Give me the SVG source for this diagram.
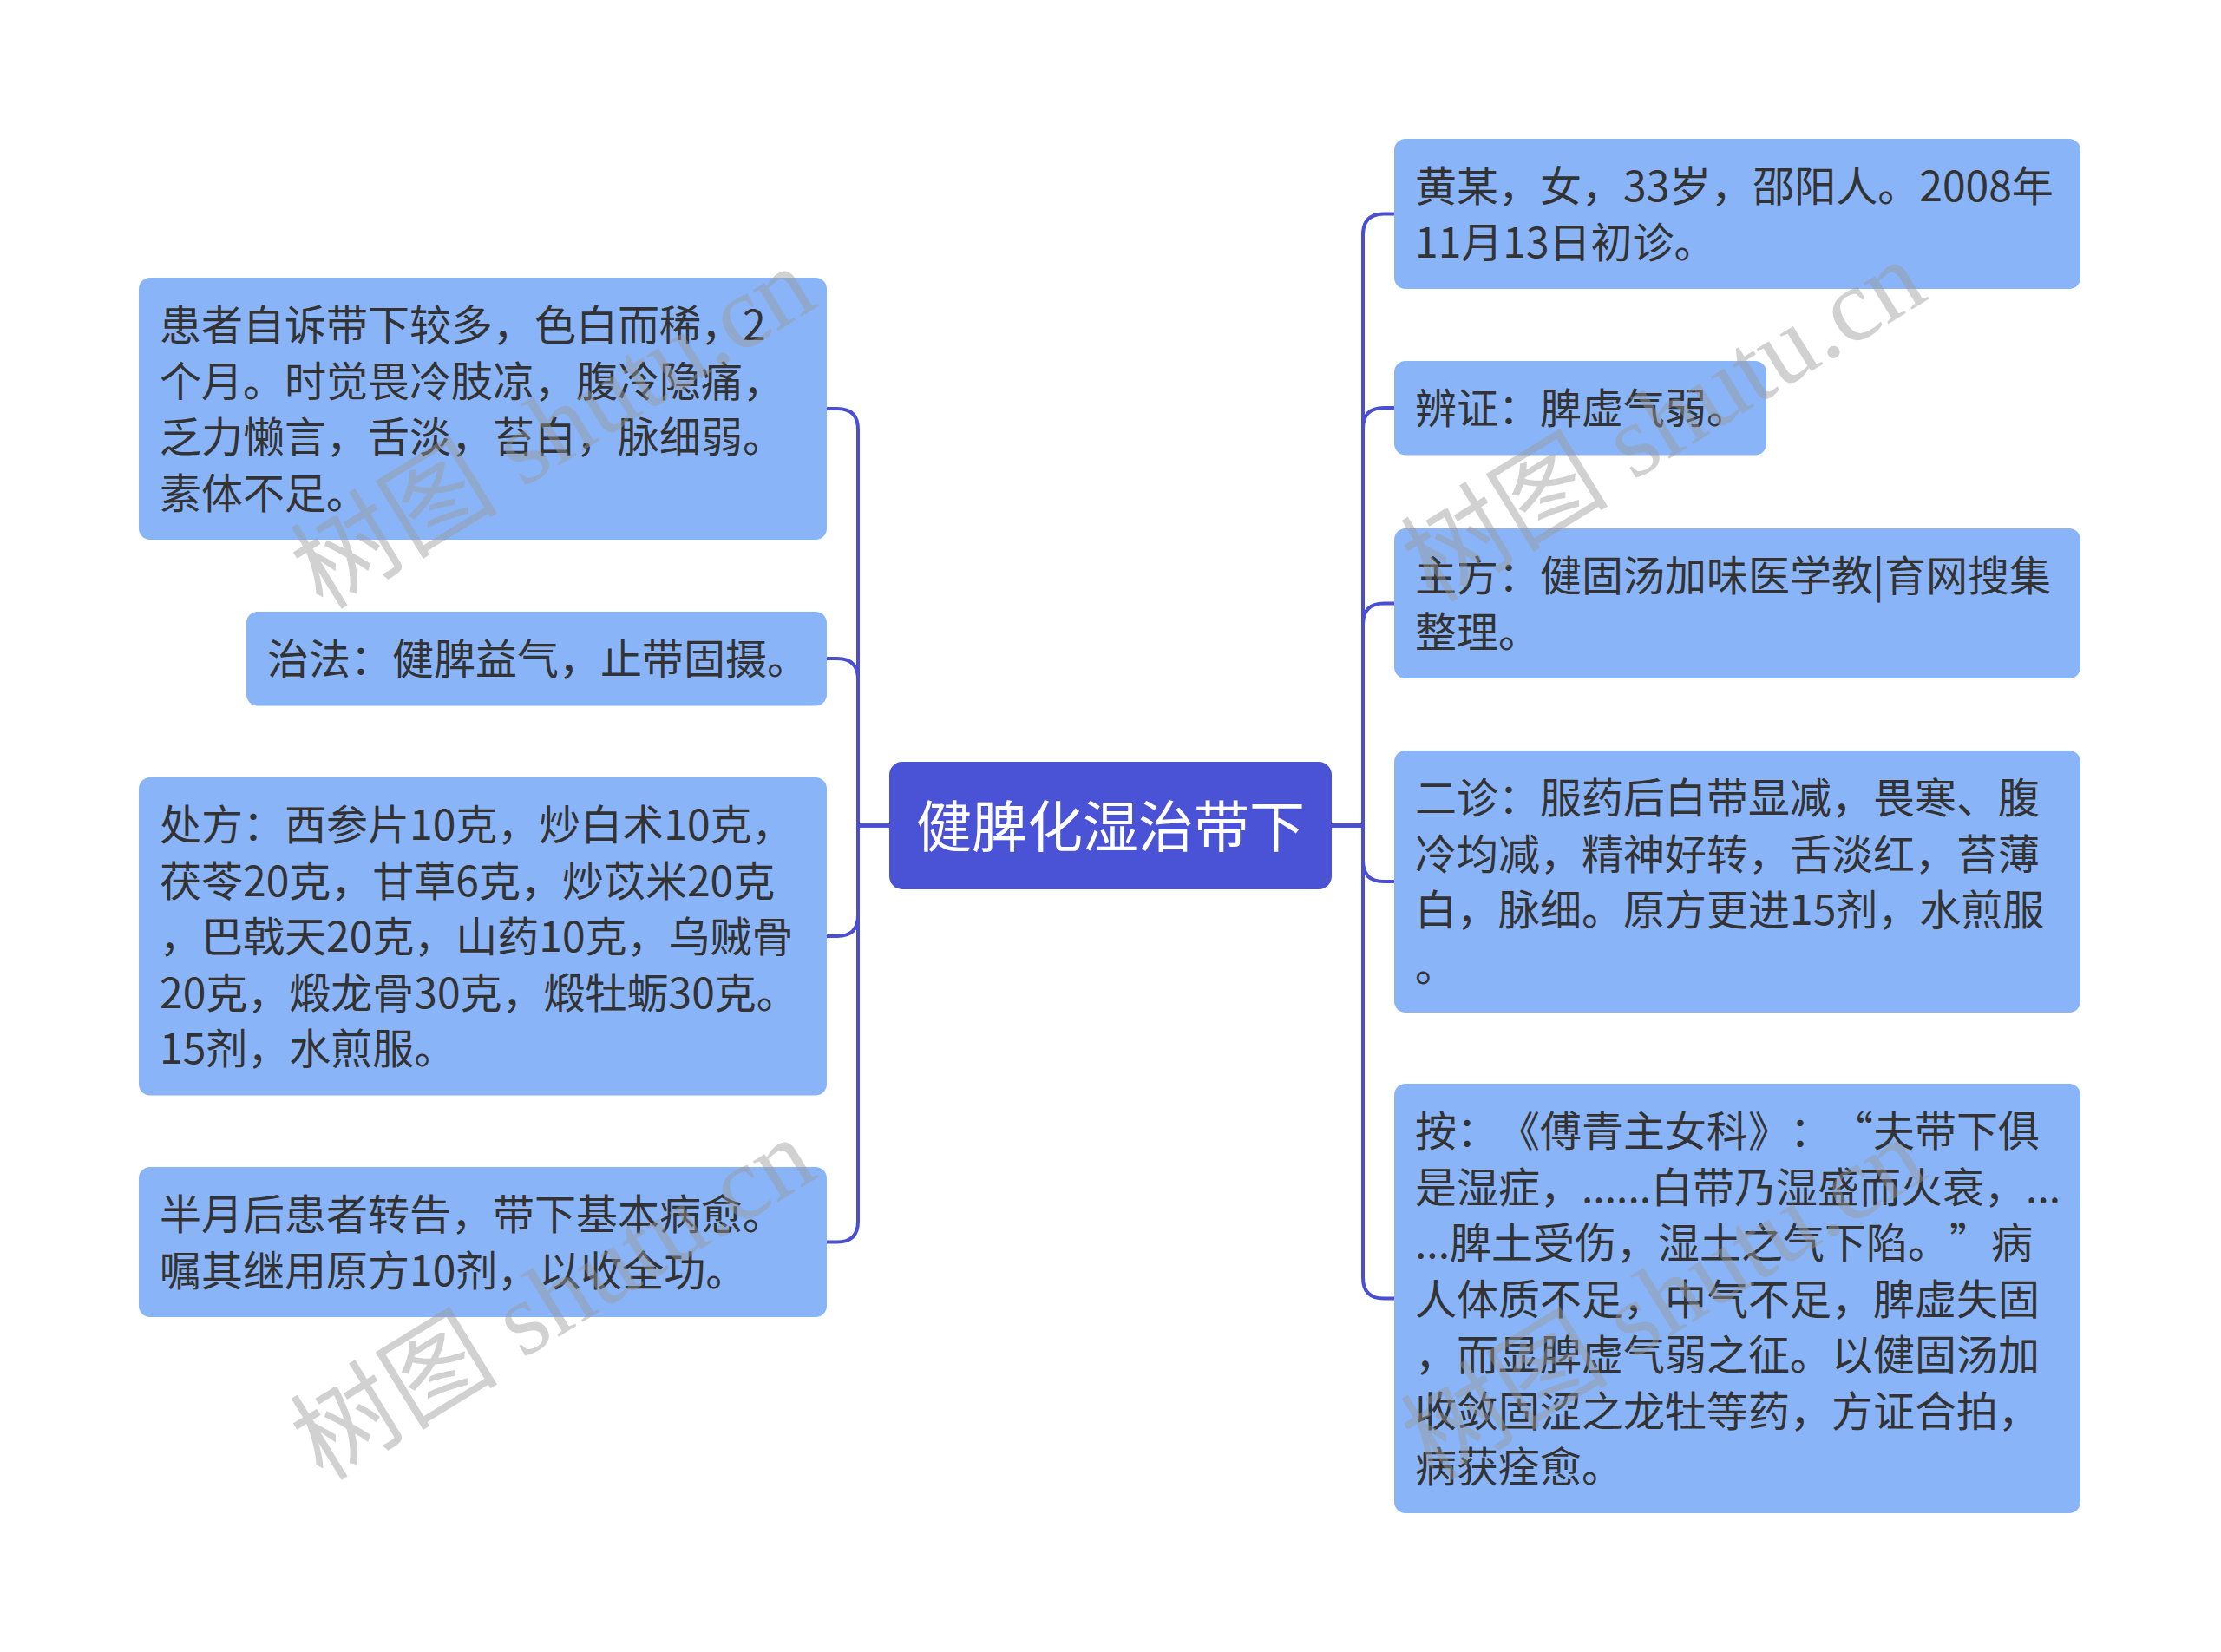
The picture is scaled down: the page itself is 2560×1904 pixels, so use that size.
<svg xmlns="http://www.w3.org/2000/svg" width="2560" height="1904" viewBox="0 0 2560 1904">
<style>
.node{fill:#8ab4f8;}
.root{fill:#4a52d6;}
.t{font-family:"Noto Sans CJK SC","Noto Sans",sans-serif;font-size:48px;fill:#333333;text-spacing-trim:space-all;}
.rt{font-family:"Noto Sans CJK SC","Noto Sans",sans-serif;font-size:64px;fill:#ffffff;text-anchor:middle;}
.c{fill:none;stroke:#4a4fd2;stroke-width:4;}
.wm{font-family:"Liberation Serif","Noto Sans CJK SC",serif;font-size:120px;fill:#9a9a9a;fill-opacity:0.45;}
</style>
<rect width="2560" height="1904" fill="#ffffff"/>
<g id="connectors">
<path class="c" d="M1535 951.5 H1571 V270.5 Q1571 246.5 1595 246.5 H1607"/>
<path class="c" d="M1535 951.5 H1571 V494 Q1571 470 1595 470 H1607"/>
<path class="c" d="M1535 951.5 H1571 V719.5 Q1571 695.5 1595 695.5 H1607"/>
<path class="c" d="M1535 951.5 H1571 V992 Q1571 1016 1595 1016 H1607"/>
<path class="c" d="M1535 951.5 H1571 V1472.5 Q1571 1496.5 1595 1496.5 H1607"/>
<path class="c" d="M1025 951.5 H989 V495 Q989 471 965 471 H953"/>
<path class="c" d="M1025 951.5 H989 V783 Q989 759 965 759 H953"/>
<path class="c" d="M1025 951.5 H989 V1055 Q989 1079 965 1079 H953"/>
<path class="c" d="M1025 951.5 H989 V1407.5 Q989 1431.5 965 1431.5 H953"/>
</g>
<g id="root">
<rect class="root" x="1025" y="878" width="510" height="147" rx="15"/>
<text class="rt" x="1280" y="976">健脾化湿治带下</text>
</g>
<g id="L1">
<rect class="node" x="160" y="320" width="793" height="302" rx="13"/>
<text class="t" x="184" y="392">患者自诉带下较多，色白而稀，2</text>
<text class="t" x="184" y="456.5">个月。时觉畏冷肢凉，腹冷隐痛，</text>
<text class="t" x="184" y="521">乏力懒言，舌淡，苔白，脉细弱。</text>
<text class="t" x="184" y="585.5">素体不足。</text>
</g>
<g id="L2">
<rect class="node" x="284" y="705" width="669" height="108.5" rx="13"/>
<text class="t" x="308" y="777">治法：健脾益气，止带固摄。</text>
</g>
<g id="L3">
<rect class="node" x="160" y="896" width="793" height="366.5" rx="13"/>
<text class="t" x="184" y="968">处方：西参片10克，炒白术10克，</text>
<text class="t" x="184" y="1032.5">茯苓20克，甘草6克，炒苡米20克</text>
<text class="t" x="184" y="1097">，巴戟天20克，山药10克，乌贼骨</text>
<text class="t" x="184" y="1161.5">20克，煅龙骨30克，煅牡蛎30克。</text>
<text class="t" x="184" y="1226">15剂，水煎服。</text>
</g>
<g id="L4">
<rect class="node" x="160" y="1345" width="793" height="173" rx="13"/>
<text class="t" x="184" y="1417">半月后患者转告，带下基本病愈。</text>
<text class="t" x="184" y="1481.5">嘱其继用原方10剂，以收全功。</text>
</g>
<g id="R1">
<rect class="node" x="1607" y="160" width="791" height="173" rx="13"/>
<text class="t" x="1631" y="232">黄某，女，33岁，邵阳人。2008年</text>
<text class="t" x="1631" y="296.5">11月13日初诊。</text>
</g>
<g id="R2">
<rect class="node" x="1607" y="416" width="429" height="108.5" rx="13"/>
<text class="t" x="1631" y="488">辨证：脾虚气弱。</text>
</g>
<g id="R3">
<rect class="node" x="1607" y="609" width="791" height="173" rx="13"/>
<text class="t" x="1631" y="681">主方：健固汤加味医学教|育网搜集</text>
<text class="t" x="1631" y="745.5">整理。</text>
</g>
<g id="R4">
<rect class="node" x="1607" y="865" width="791" height="302" rx="13"/>
<text class="t" x="1631" y="937">二诊：服药后白带显减，畏寒、腹</text>
<text class="t" x="1631" y="1001.5">冷均减，精神好转，舌淡红，苔薄</text>
<text class="t" x="1631" y="1066">白，脉细。原方更进15剂，水煎服</text>
<text class="t" x="1631" y="1130.5">。</text>
</g>
<g id="R5">
<rect class="node" x="1607" y="1249" width="791" height="495" rx="13"/>
<text class="t" x="1631" y="1321">按：《傅青主女科》：“夫带下俱</text>
<text class="t" x="1631" y="1385.5">是湿症，......白带乃湿盛而火衰，...</text>
<text class="t" x="1631" y="1450">...脾土受伤，湿土之气下陷。”病</text>
<text class="t" x="1631" y="1514.5">人体质不足，中气不足，脾虚失固</text>
<text class="t" x="1631" y="1579">，而显脾虚气弱之征。以健固汤加</text>
<text class="t" x="1631" y="1643.5">收敛固涩之龙牡等药，方证合拍，</text>
<text class="t" x="1631" y="1708">病获痊愈。</text>
</g>
<g id="watermarks">
<text class="wm" transform="translate(372 704) rotate(-31.6)">树图 shutu.cn</text>
<text class="wm" transform="translate(372 1708) rotate(-31.6)">树图 shutu.cn</text>
<text class="wm" transform="translate(1652 696) rotate(-31.6)">树图 shutu.cn</text>
<text class="wm" transform="translate(1652 1708) rotate(-31.6)">树图 shutu.cn</text>
</g>
</svg>
